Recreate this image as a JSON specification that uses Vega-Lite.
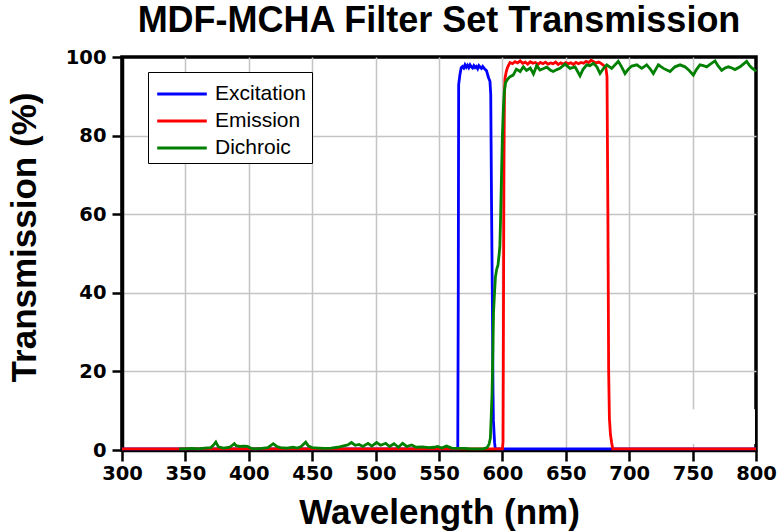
{
  "$schema": "https://vega.github.io/schema/vega-lite/v6.json",
  "autosize": "none",
  "width": 634,
  "height": 393,
  "padding": {"left": 122, "top": 57, "right": 24, "bottom": 82},
  "background": "white",
  "title": {
    "text": "MDF-MCHA Filter Set Transmission",
    "font": "Liberation Sans",
    "fontSize": 36,
    "fontWeight": "bold",
    "color": "black",
    "anchor": "middle",
    "frame": "group",
    "offset": 7
  },
  "datasets": {
    "patch": [
      {"x0": 720.3, "x1": 799.2, "y0": 1.5, "y1": 10.4}
    ],
    "spectra": [
      {"series": "Excitation", "wl": 300, "t": 0.3},
      {"series": "Excitation", "wl": 564.8, "t": 0.3},
      {"series": "Excitation", "wl": 565.2, "t": 40},
      {"series": "Excitation", "wl": 565.5, "t": 93},
      {"series": "Excitation", "wl": 566.5, "t": 95.5},
      {"series": "Excitation", "wl": 567.5, "t": 97.3},
      {"series": "Excitation", "wl": 568.5, "t": 97.6},
      {"series": "Excitation", "wl": 569.5, "t": 97.2},
      {"series": "Excitation", "wl": 570.5, "t": 98},
      {"series": "Excitation", "wl": 571.5, "t": 97.4},
      {"series": "Excitation", "wl": 572.5, "t": 97.9},
      {"series": "Excitation", "wl": 573.5, "t": 97.3},
      {"series": "Excitation", "wl": 574.5, "t": 98},
      {"series": "Excitation", "wl": 575.5, "t": 97.5},
      {"series": "Excitation", "wl": 576.5, "t": 97.2},
      {"series": "Excitation", "wl": 577.5, "t": 97.8},
      {"series": "Excitation", "wl": 578.5, "t": 97.3},
      {"series": "Excitation", "wl": 579.5, "t": 97.6},
      {"series": "Excitation", "wl": 580.5, "t": 97},
      {"series": "Excitation", "wl": 581.5, "t": 97.8},
      {"series": "Excitation", "wl": 582.5, "t": 97.4},
      {"series": "Excitation", "wl": 583.5, "t": 97.1},
      {"series": "Excitation", "wl": 584.5, "t": 97.6},
      {"series": "Excitation", "wl": 585.5, "t": 97.2},
      {"series": "Excitation", "wl": 586.5, "t": 96.8},
      {"series": "Excitation", "wl": 587.5, "t": 96.5},
      {"series": "Excitation", "wl": 589, "t": 94.8},
      {"series": "Excitation", "wl": 590.2, "t": 93.8},
      {"series": "Excitation", "wl": 590.8, "t": 90.5},
      {"series": "Excitation", "wl": 591.5, "t": 60},
      {"series": "Excitation", "wl": 592.1, "t": 37},
      {"series": "Excitation", "wl": 592.6, "t": 15},
      {"series": "Excitation", "wl": 592.9, "t": 7.6},
      {"series": "Excitation", "wl": 593.8, "t": 2},
      {"series": "Excitation", "wl": 594.3, "t": 0.5},
      {"series": "Excitation", "wl": 595, "t": 0.3},
      {"series": "Excitation", "wl": 800, "t": 0.3},

      {"series": "Emission", "wl": 300, "t": 0.3},
      {"series": "Emission", "wl": 600, "t": 0.3},
      {"series": "Emission", "wl": 600.5, "t": 2},
      {"series": "Emission", "wl": 600.8, "t": 30},
      {"series": "Emission", "wl": 601.2, "t": 70},
      {"series": "Emission", "wl": 601.6, "t": 90},
      {"series": "Emission", "wl": 602, "t": 94.5},
      {"series": "Emission", "wl": 603, "t": 96.2},
      {"series": "Emission", "wl": 604, "t": 97.3},
      {"series": "Emission", "wl": 605, "t": 98},
      {"series": "Emission", "wl": 606, "t": 98.6},
      {"series": "Emission", "wl": 608, "t": 98.3},
      {"series": "Emission", "wl": 610, "t": 98.8},
      {"series": "Emission", "wl": 612, "t": 98.5},
      {"series": "Emission", "wl": 614, "t": 99},
      {"series": "Emission", "wl": 616, "t": 98.4},
      {"series": "Emission", "wl": 618, "t": 98.7},
      {"series": "Emission", "wl": 620, "t": 98.2},
      {"series": "Emission", "wl": 622, "t": 98.8},
      {"series": "Emission", "wl": 624, "t": 98.4},
      {"series": "Emission", "wl": 626, "t": 98.6},
      {"series": "Emission", "wl": 628, "t": 98.1},
      {"series": "Emission", "wl": 630, "t": 98.6},
      {"series": "Emission", "wl": 632, "t": 98.3},
      {"series": "Emission", "wl": 634, "t": 98.7},
      {"series": "Emission", "wl": 636, "t": 98.2},
      {"series": "Emission", "wl": 638, "t": 98.5},
      {"series": "Emission", "wl": 640, "t": 98.3},
      {"series": "Emission", "wl": 642, "t": 98.7},
      {"series": "Emission", "wl": 644, "t": 98.1},
      {"series": "Emission", "wl": 646, "t": 98.5},
      {"series": "Emission", "wl": 648, "t": 98.2},
      {"series": "Emission", "wl": 650, "t": 98.6},
      {"series": "Emission", "wl": 652, "t": 98.3},
      {"series": "Emission", "wl": 654, "t": 98.5},
      {"series": "Emission", "wl": 656, "t": 98.1},
      {"series": "Emission", "wl": 658, "t": 98.6},
      {"series": "Emission", "wl": 660, "t": 98.3},
      {"series": "Emission", "wl": 662, "t": 98.6},
      {"series": "Emission", "wl": 664, "t": 98.4},
      {"series": "Emission", "wl": 666, "t": 98.9},
      {"series": "Emission", "wl": 668, "t": 98.6},
      {"series": "Emission", "wl": 670, "t": 99.2},
      {"series": "Emission", "wl": 672, "t": 98.8},
      {"series": "Emission", "wl": 674, "t": 98.5},
      {"series": "Emission", "wl": 676, "t": 98.7},
      {"series": "Emission", "wl": 678, "t": 98.3},
      {"series": "Emission", "wl": 680, "t": 97.8},
      {"series": "Emission", "wl": 681.5, "t": 97.5},
      {"series": "Emission", "wl": 682.5, "t": 95},
      {"series": "Emission", "wl": 683.2, "t": 60},
      {"series": "Emission", "wl": 683.8, "t": 20},
      {"series": "Emission", "wl": 684.4, "t": 8},
      {"series": "Emission", "wl": 685.2, "t": 4},
      {"series": "Emission", "wl": 686.2, "t": 1.8},
      {"series": "Emission", "wl": 687, "t": 0.3},
      {"series": "Emission", "wl": 800, "t": 0.3},

      {"series": "Dichroic", "wl": 345, "t": 0.3},
      {"series": "Dichroic", "wl": 350, "t": 0.3},
      {"series": "Dichroic", "wl": 355, "t": 0.4},
      {"series": "Dichroic", "wl": 360, "t": 0.3},
      {"series": "Dichroic", "wl": 365, "t": 0.5},
      {"series": "Dichroic", "wl": 370, "t": 0.6},
      {"series": "Dichroic", "wl": 372, "t": 1.2},
      {"series": "Dichroic", "wl": 374, "t": 2},
      {"series": "Dichroic", "wl": 376, "t": 0.8},
      {"series": "Dichroic", "wl": 380, "t": 0.5},
      {"series": "Dichroic", "wl": 385, "t": 0.7},
      {"series": "Dichroic", "wl": 388.6, "t": 1.6},
      {"series": "Dichroic", "wl": 390, "t": 1.1},
      {"series": "Dichroic", "wl": 393, "t": 0.9},
      {"series": "Dichroic", "wl": 396, "t": 1},
      {"series": "Dichroic", "wl": 399, "t": 0.9},
      {"series": "Dichroic", "wl": 402, "t": 0.4},
      {"series": "Dichroic", "wl": 405, "t": 0.3},
      {"series": "Dichroic", "wl": 410, "t": 0.4},
      {"series": "Dichroic", "wl": 415, "t": 0.6},
      {"series": "Dichroic", "wl": 419.3, "t": 1.6},
      {"series": "Dichroic", "wl": 422, "t": 0.9},
      {"series": "Dichroic", "wl": 425, "t": 0.6},
      {"series": "Dichroic", "wl": 430, "t": 0.5},
      {"series": "Dichroic", "wl": 435, "t": 0.7},
      {"series": "Dichroic", "wl": 438, "t": 0.5},
      {"series": "Dichroic", "wl": 441, "t": 0.8},
      {"series": "Dichroic", "wl": 444.9, "t": 2},
      {"series": "Dichroic", "wl": 447, "t": 1},
      {"series": "Dichroic", "wl": 450, "t": 0.6},
      {"series": "Dichroic", "wl": 455, "t": 0.5},
      {"series": "Dichroic", "wl": 460, "t": 0.4},
      {"series": "Dichroic", "wl": 465, "t": 0.5},
      {"series": "Dichroic", "wl": 470, "t": 0.7},
      {"series": "Dichroic", "wl": 474, "t": 1},
      {"series": "Dichroic", "wl": 478, "t": 1.3},
      {"series": "Dichroic", "wl": 481, "t": 1.9},
      {"series": "Dichroic", "wl": 484, "t": 1.2},
      {"series": "Dichroic", "wl": 487, "t": 1.4},
      {"series": "Dichroic", "wl": 490, "t": 0.9},
      {"series": "Dichroic", "wl": 494, "t": 1.7},
      {"series": "Dichroic", "wl": 497, "t": 1},
      {"series": "Dichroic", "wl": 500.8, "t": 1.9},
      {"series": "Dichroic", "wl": 504, "t": 1.2},
      {"series": "Dichroic", "wl": 508, "t": 1.7},
      {"series": "Dichroic", "wl": 511, "t": 0.9},
      {"series": "Dichroic", "wl": 514.5, "t": 1.6},
      {"series": "Dichroic", "wl": 518, "t": 0.7},
      {"series": "Dichroic", "wl": 521.3, "t": 1.7},
      {"series": "Dichroic", "wl": 524.5, "t": 0.9},
      {"series": "Dichroic", "wl": 528.4, "t": 1.3},
      {"series": "Dichroic", "wl": 532, "t": 0.7},
      {"series": "Dichroic", "wl": 537, "t": 0.8},
      {"series": "Dichroic", "wl": 542, "t": 0.6},
      {"series": "Dichroic", "wl": 546, "t": 0.7},
      {"series": "Dichroic", "wl": 549, "t": 0.9},
      {"series": "Dichroic", "wl": 552, "t": 0.5},
      {"series": "Dichroic", "wl": 556, "t": 1},
      {"series": "Dichroic", "wl": 560, "t": 0.5},
      {"series": "Dichroic", "wl": 565, "t": 0.4},
      {"series": "Dichroic", "wl": 570, "t": 0.4},
      {"series": "Dichroic", "wl": 575, "t": 0.3},
      {"series": "Dichroic", "wl": 580, "t": 0.3},
      {"series": "Dichroic", "wl": 585, "t": 0.3},
      {"series": "Dichroic", "wl": 588, "t": 0.6},
      {"series": "Dichroic", "wl": 589.5, "t": 1.5},
      {"series": "Dichroic", "wl": 590.5, "t": 3},
      {"series": "Dichroic", "wl": 591, "t": 7},
      {"series": "Dichroic", "wl": 591.8, "t": 14},
      {"series": "Dichroic", "wl": 592.5, "t": 25},
      {"series": "Dichroic", "wl": 593, "t": 35},
      {"series": "Dichroic", "wl": 593.8, "t": 40},
      {"series": "Dichroic", "wl": 594.5, "t": 44},
      {"series": "Dichroic", "wl": 595.5, "t": 46},
      {"series": "Dichroic", "wl": 596.5, "t": 47},
      {"series": "Dichroic", "wl": 597.5, "t": 50},
      {"series": "Dichroic", "wl": 598, "t": 52},
      {"series": "Dichroic", "wl": 598.5, "t": 58},
      {"series": "Dichroic", "wl": 599.3, "t": 70},
      {"series": "Dichroic", "wl": 600, "t": 80},
      {"series": "Dichroic", "wl": 600.8, "t": 87},
      {"series": "Dichroic", "wl": 601.5, "t": 91},
      {"series": "Dichroic", "wl": 602.5, "t": 93.5},
      {"series": "Dichroic", "wl": 604, "t": 94.3},
      {"series": "Dichroic", "wl": 606, "t": 95},
      {"series": "Dichroic", "wl": 608.5, "t": 95.4},
      {"series": "Dichroic", "wl": 611, "t": 96.9},
      {"series": "Dichroic", "wl": 614, "t": 96.3},
      {"series": "Dichroic", "wl": 616.5, "t": 97.5},
      {"series": "Dichroic", "wl": 619, "t": 96.6},
      {"series": "Dichroic", "wl": 622, "t": 97.2},
      {"series": "Dichroic", "wl": 624.5, "t": 95.7},
      {"series": "Dichroic", "wl": 627, "t": 97.8},
      {"series": "Dichroic", "wl": 629.6, "t": 96.7},
      {"series": "Dichroic", "wl": 632, "t": 97},
      {"series": "Dichroic", "wl": 635, "t": 97.4},
      {"series": "Dichroic", "wl": 638, "t": 96.6},
      {"series": "Dichroic", "wl": 640, "t": 96.3},
      {"series": "Dichroic", "wl": 643, "t": 96.8},
      {"series": "Dichroic", "wl": 645.4, "t": 97.1},
      {"series": "Dichroic", "wl": 649.4, "t": 98.2},
      {"series": "Dichroic", "wl": 653.3, "t": 97.1},
      {"series": "Dichroic", "wl": 657.3, "t": 97.5},
      {"series": "Dichroic", "wl": 659, "t": 96.5},
      {"series": "Dichroic", "wl": 661.2, "t": 95.2},
      {"series": "Dichroic", "wl": 663.5, "t": 96.8},
      {"series": "Dichroic", "wl": 666.5, "t": 98},
      {"series": "Dichroic", "wl": 669, "t": 97.8},
      {"series": "Dichroic", "wl": 671.7, "t": 98.4},
      {"series": "Dichroic", "wl": 674.5, "t": 97.5},
      {"series": "Dichroic", "wl": 677, "t": 95.8},
      {"series": "Dichroic", "wl": 679.5, "t": 97},
      {"series": "Dichroic", "wl": 682.3, "t": 98},
      {"series": "Dichroic", "wl": 686.2, "t": 97.1},
      {"series": "Dichroic", "wl": 691.4, "t": 98.9},
      {"series": "Dichroic", "wl": 694, "t": 97.5},
      {"series": "Dichroic", "wl": 696.7, "t": 95.8},
      {"series": "Dichroic", "wl": 699, "t": 96.8},
      {"series": "Dichroic", "wl": 702, "t": 97.7},
      {"series": "Dichroic", "wl": 706, "t": 98},
      {"series": "Dichroic", "wl": 709.9, "t": 97.1},
      {"series": "Dichroic", "wl": 713.8, "t": 98},
      {"series": "Dichroic", "wl": 716.5, "t": 97},
      {"series": "Dichroic", "wl": 719, "t": 95.8},
      {"series": "Dichroic", "wl": 723, "t": 98},
      {"series": "Dichroic", "wl": 727, "t": 97.1},
      {"series": "Dichroic", "wl": 732.2, "t": 96.3},
      {"series": "Dichroic", "wl": 736.1, "t": 97.5},
      {"series": "Dichroic", "wl": 740.1, "t": 98},
      {"series": "Dichroic", "wl": 744, "t": 97.5},
      {"series": "Dichroic", "wl": 747.5, "t": 96.5},
      {"series": "Dichroic", "wl": 750.6, "t": 95.4},
      {"series": "Dichroic", "wl": 753, "t": 96.8},
      {"series": "Dichroic", "wl": 755.8, "t": 98},
      {"series": "Dichroic", "wl": 758.5, "t": 97.8},
      {"series": "Dichroic", "wl": 761.1, "t": 97.5},
      {"series": "Dichroic", "wl": 764, "t": 98.2},
      {"series": "Dichroic", "wl": 767.7, "t": 99},
      {"series": "Dichroic", "wl": 770, "t": 97.8},
      {"series": "Dichroic", "wl": 772.9, "t": 96.6},
      {"series": "Dichroic", "wl": 775.5, "t": 97.2},
      {"series": "Dichroic", "wl": 778.2, "t": 97.5},
      {"series": "Dichroic", "wl": 781, "t": 97.2},
      {"series": "Dichroic", "wl": 783.4, "t": 96.8},
      {"series": "Dichroic", "wl": 787.4, "t": 97.5},
      {"series": "Dichroic", "wl": 790, "t": 98.2},
      {"series": "Dichroic", "wl": 792.6, "t": 98.9},
      {"series": "Dichroic", "wl": 794.5, "t": 98},
      {"series": "Dichroic", "wl": 796.5, "t": 97.3},
      {"series": "Dichroic", "wl": 798.5, "t": 96.8},
      {"series": "Dichroic", "wl": 800, "t": 96.3}
    ]
  },
  "layer": [
    {
      "data": {"name": "patch"},
      "mark": {"type": "rect", "fill": "white"},
      "encoding": {
        "x": {"field": "x0", "type": "quantitative"},
        "x2": {"field": "x1"},
        "y": {"field": "y0", "type": "quantitative"},
        "y2": {"field": "y1"}
      }
    },
    {
      "data": {"name": "spectra"},
      "mark": {"type": "line", "strokeWidth": 2.8, "interpolate": "linear"},
      "encoding": {
        "x": {
          "field": "wl",
          "type": "quantitative",
          "scale": {"domain": [300, 800], "nice": false, "zero": false},
          "axis": {
            "title": "Wavelength (nm)",
            "values": [300, 325, 350, 375, 400, 425, 450, 475, 500, 525, 550, 575, 600, 625, 650, 675, 700, 725, 750, 775, 800],
            "labelExpr": "datum.value % 50 === 0 ? datum.label : ''",
            "labelFlush": false,
            "labelOverlap": false,
            "tickSize": {"condition": {"test": "datum.value % 50 === 0", "value": 11}, "value": 7},
            "gridOpacity": {"condition": {"test": "datum.value === 300 || datum.value === 800", "value": 0}, "value": 1},
            "labelPadding": 3,
            "titleY": 73,
            "titleBaseline": "alphabetic",
            "titleFontSize": 35
          }
        },
        "y": {
          "field": "t",
          "type": "quantitative",
          "scale": {"domain": [0, 100], "nice": false},
          "axis": {
            "title": "Transmission (%)",
            "values": [0, 10, 20, 30, 40, 50, 60, 70, 80, 90, 100],
            "labelExpr": "datum.value % 20 === 0 ? datum.label : ''",
            "labelOverlap": false,
            "tickSize": {"condition": {"test": "datum.value % 20 === 0", "value": 10}, "value": 5},
            "gridOpacity": {"condition": {"test": "datum.value === 0 || datum.value === 100", "value": 0}, "value": 1},
            "labelPadding": 6,
            "titleX": -87,
            "titleY": 180,
            "titleBaseline": "alphabetic",
            "titleAngle": -90
          }
        },
        "color": {
          "field": "series",
          "type": "nominal",
          "sort": ["Excitation", "Emission", "Dichroic"],
          "scale": {"domain": ["Excitation", "Emission", "Dichroic"], "range": ["#0000ff", "#ff0000", "#008000"]},
          "legend": {
            "title": null,
            "orient": "none",
            "legendX": 26,
            "legendY": 15,
            "fillColor": "white",
            "strokeColor": "black",
            "padding": 5,
            "cornerRadius": 0,
            "symbolType": "M-1.6,0H1.6",
            "symbolSize": 961,
            "symbolStrokeWidth": 3,
            "symbolOffset": 12,
            "labelFont": "Liberation Sans",
            "labelFontSize": 21,
            "labelColor": "black",
            "labelOffset": 16,
            "labelLimit": 300,
            "rowPadding": 0
          }
        }
      }
    }
  ],
  "config": {
    "view": {"stroke": "black", "strokeWidth": 3.5},
    "axis": {
      "grid": true,
      "gridColor": "#c4c4c4",
      "gridWidth": 1.5,
      "domainColor": "black",
      "domainWidth": 3.5,
      "tickColor": "black",
      "tickWidth": 2.5,
      "labelFont": "DejaVu Sans",
      "labelFontWeight": "bold",
      "labelFontSize": 19.5,
      "labelColor": "black",
      "titleFont": "Liberation Sans",
      "titleFontSize": 35,
      "titleFontWeight": "bold",
      "titleColor": "black"
    }
  }
}
